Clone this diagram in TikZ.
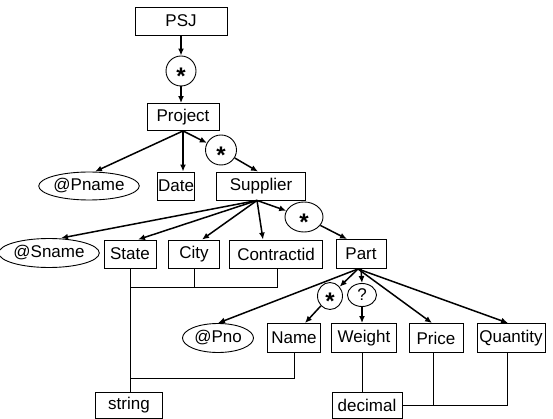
\documentclass[tikz,border=0pt]{standalone}
\usepackage{fontspec}
\setmainfont{Liberation Sans}
\usetikzlibrary{shapes.geometric,arrows.meta}
\begin{document}
\begin{tikzpicture}[x=1pt,y=-1pt,
  lbl/.style={font=\fontsize{17}{17}\selectfont},
  box/.style={lbl,draw,rectangle,inner sep=0pt,line width=0.9pt},
  ell/.style={lbl,draw,ellipse,inner sep=0pt,line width=0.9pt},
  card/.style={ell,font=\fontsize{24}{24}\selectfont\bfseries},
  arr/.style={-{Latex[length=7pt,width=6pt]},line width=1.5pt},
  ln/.style={line width=0.8pt}]
\useasboundingbox (0,0) rectangle (553,419);
\newcommand{\st}{\raisebox{-0.57em}[0pt][0pt]{*}}
% nodes
\node[box,minimum width=92pt,minimum height=28pt] (psj) at (181,21) {PSJ};
\node[card,minimum width=30pt,minimum height=30pt] (s1) at (181,71) {\st};
\node[box,minimum width=72pt,minimum height=27pt] (proj) at (183,117) {Project};
\node[card,minimum width=31pt,minimum height=30pt] (s2) at (221,150) {\st};
\node[ell,minimum width=87pt,minimum height=28pt] (pname) at (89,186) {@Pname};
\node[box,minimum width=37pt,minimum height=28pt] (date) at (176,186) {Date};
\node[box,minimum width=89pt,minimum height=28pt] (sup) at (261,186) {Supplier};
\node[card,minimum width=38pt,minimum height=30pt] (s3) at (304,217) {\st};
\node[ell,minimum width=80pt,minimum height=29pt] (sname) at (49,253) {@Sname};
\node[box,minimum width=52pt,minimum height=28pt] (state) at (130,254) {State};
\node[box,minimum width=51pt,minimum height=28pt] (city) at (194,254) {City};
\node[box,minimum width=93pt,minimum height=28pt] (contr) at (276,254) {Contractid};
\node[box,minimum width=50pt,minimum height=29pt] (part) at (361,254) {Part};
\node[card,minimum width=25pt,minimum height=27pt] (s4) at (330,296) {\st};
\node[ell,minimum width=29pt,minimum height=23pt] (q) at (362,295) {?};
\node[ell,minimum width=71pt,minimum height=29pt] (pno) at (218,338) {@Pno};
\node[box,minimum width=53pt,minimum height=29pt] (name) at (294,338) {Name};
\node[box,minimum width=65pt,minimum height=29pt] (weight) at (364,338) {Weight};
\node[box,minimum width=54pt,minimum height=29pt] (price) at (436,338) {Price};
\node[box,minimum width=68pt,minimum height=29pt] (quant) at (511,338) {Quantity};
\node[box,minimum width=67pt,minimum height=26pt] (string) at (129,405) {string};
\node[box,minimum width=70pt,minimum height=26pt] (dec) at (367,405) {decimal};
% helper coordinates
\coordinate (h1) at (0,287);
\coordinate (h2) at (0,378);
\coordinate (supb) at ([xshift=-4pt]sup.south);
\coordinate (partb) at ([xshift=-3pt]part.south);
% arrows
\draw[arr] (psj) -- (s1);
\draw[arr] (s1.south) -- (s1.south |- proj.north);
\draw[arr] (proj.south) -- ([xshift=6pt]pname.north);
\draw[arr] (proj.south) -- (proj.south |- date.north);
\draw[arr] (proj.south) -- (s2);
\draw[arr] (s2) -- ([xshift=-3pt]sup.north);
\draw[arr] (supb) -- ([xshift=12pt]sname.north);
\draw[arr] (supb) -- ([xshift=8pt]state.north);
\draw[arr] (supb) -- ([xshift=8pt]city.north);
\draw[arr] (supb) -- ([xshift=-13pt]contr.north);
\draw[arr] (supb) -- (s3);
\draw[arr] (s3) -- ([xshift=-14pt]part.north);
\draw[arr] (partb) -- (pno.north);
\draw[arr] (partb) -- (s4);
\draw[arr] (part.south) -- (q.north);
\draw[arr] (partb) -- ([xshift=-4pt]price.north);
\draw[arr] (partb) -- ([xshift=-3pt]quant.north);
\draw[arr] (s4) -- ([xshift=11pt]name.north);
\draw[arr] (q.south) -- (q.south |- weight.north);
% type lines
\draw[ln] (state.south) -- (state.south |- string.north);
\draw[ln] (state.south |- h1) -| ([xshift=1pt]contr.south);
\draw[ln] (city.south) -- (city.south |- h1);
\draw[ln] (name.south) |- (state.south |- h2);
\draw[ln] (q.south |- weight.south) -- (q.south |- dec.north);
\draw[ln] ([xshift=-3pt]price.south) |- (dec.east);
\draw[ln] ([xshift=-4pt]quant.south) |- (dec.east);
\end{tikzpicture}
\end{document}
